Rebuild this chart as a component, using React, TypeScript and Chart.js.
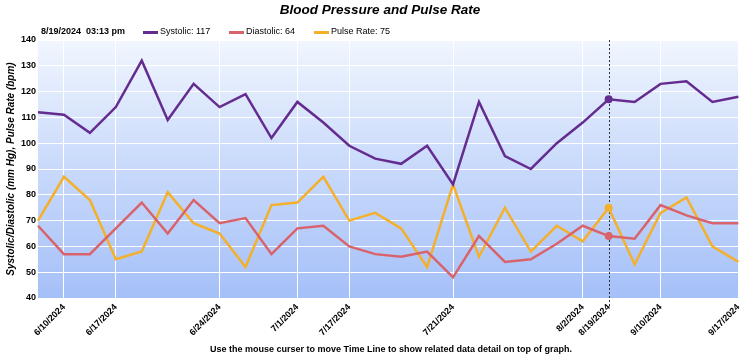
import React, { useEffect, useRef } from "react";
import { Chart, registerables } from "chart.js";

Chart.register(...registerables);

const FONT = 'Arial, "Liberation Sans", sans-serif';

const dateLabels: string[] = [
  "", "6/10/2024", "", "6/17/2024", "", "", "", "6/24/2024", "", "",
  "7/1/2024", "", "7/17/2024", "", "", "", "7/21/2024", "", "", "",
  "", "8/2/2024", "8/19/2024", "", "9/10/2024", "", "", "9/17/2024",
];

const systolic: number[] = [
  112, 111, 104, 114, 132, 109, 123, 114, 119, 102, 116, 108, 99, 94,
  92, 99, 84, 116, 95, 90, 100, 108, 117, 116, 123, 124, 116, 118,
];

const diastolic: number[] = [
  68, 57, 57, 67, 77, 65, 78, 69, 71, 57, 67, 68, 60, 57,
  56, 58, 48, 64, 54, 55, 61, 68, 64, 63, 76, 72, 69, 69,
];

const pulseRate: number[] = [
  70, 87, 78, 55, 58, 81, 69, 65, 52, 76, 77, 87, 70, 73,
  67, 52, 84, 56, 75, 58, 68, 62, 75, 53, 73, 79, 60, 54,
];

const yTicks: number[] = [40, 50, 60, 70, 80, 90, 100, 110, 120, 130, 140];

const selectedIndex = 22;
const selectedText = "8/19/2024  03:13 pm";
const titleText = "Blood Pressure and Pulse Rate";
const yTitleText = "Systolic/Diastolic (mm Hg), Pulse Rate (bpm)";
const footerText = "Use the mouse curser to move Time Line to show related data detail on top of graph.";

const COLORS = {
  systolic: "#652c90",
  diastolic: "#d9636b",
  pulse: "#f4b02a",
};

const decorPlugin = {
  id: "decor",
  beforeDraw(chart: any) {
    const { ctx, chartArea } = chart;
    const { left, right, top, bottom } = chartArea;
    const g = ctx.createLinearGradient(0, top, 0, bottom);
    g.addColorStop(0, "#f1f6fe");
    g.addColorStop(0.5, "#c8d9fb");
    g.addColorStop(1, "#a5c0f8");
    ctx.save();
    ctx.fillStyle = g;
    ctx.fillRect(left, top, right - left, bottom - top);
    ctx.restore();
  },
  beforeDatasetsDraw(chart: any) {
    const { ctx, chartArea, scales } = chart;
    const x = Math.round(scales.x.getPixelForValue(selectedIndex)) + 0.5;
    ctx.save();
    ctx.strokeStyle = "#333";
    ctx.lineWidth = 1;
    ctx.setLineDash([2, 2]);
    ctx.beginPath();
    ctx.moveTo(x, chartArea.top);
    ctx.lineTo(x, chartArea.bottom + 8);
    ctx.stroke();
    ctx.restore();
  },
  afterDraw(chart: any) {
    const { ctx, chartArea } = chart;
    ctx.save();
    ctx.fillStyle = "#000";
    ctx.textBaseline = "middle";
    // title
    ctx.font = `italic bold 13.5px ${FONT}`;
    ctx.textAlign = "center";
    ctx.fillText(titleText, 380, 10);
    // header legend
    ctx.textAlign = "left";
    ctx.font = `bold 9px ${FONT}`;
    ctx.fillText(selectedText, 41, 32);
    ctx.font = `9px ${FONT}`;
    const items = [
      { x: 143, color: COLORS.systolic, text: `Systolic: ${systolic[selectedIndex]}` },
      { x: 229, color: COLORS.diastolic, text: `Diastolic: ${diastolic[selectedIndex]}` },
      { x: 314, color: COLORS.pulse, text: `Pulse Rate: ${pulseRate[selectedIndex]}` },
    ];
    items.forEach((it) => {
      ctx.fillStyle = it.color;
      ctx.fillRect(it.x, 31, 15, 3);
      ctx.fillStyle = "#000";
      ctx.fillText(it.text, it.x + 17, 32);
    });
    // y title
    ctx.save();
    ctx.translate(11, (chartArea.top + chartArea.bottom) / 2);
    ctx.rotate(-Math.PI / 2);
    ctx.textAlign = "center";
    ctx.font = `italic bold 10px ${FONT}`;
    ctx.fillText(yTitleText, 0, 0);
    ctx.restore();
    // footer
    ctx.textAlign = "center";
    ctx.font = `bold 9px ${FONT}`;
    ctx.fillText(footerText, 391, 350);
    ctx.restore();
  },
};

export default function App() {
  const canvasRef = useRef<HTMLCanvasElement | null>(null);

  useEffect(() => {
    if (!canvasRef.current) return;
    const pr = (color: string) => ({
      borderColor: color,
      backgroundColor: color,
      borderWidth: 2.5,
      pointRadius: (c: any) => (c.dataIndex === selectedIndex ? 4 : 0),
      pointBorderWidth: 0,
      pointBackgroundColor: color,
      tension: 0,
      fill: false,
    });
    const chart = new Chart(canvasRef.current, {
      type: "line",
      data: {
        labels: dateLabels,
        datasets: [
          { label: "Systolic", data: systolic, ...pr(COLORS.systolic) },
          { label: "Diastolic", data: diastolic, ...pr(COLORS.diastolic) },
          { label: "Pulse Rate", data: pulseRate, ...pr(COLORS.pulse) },
        ] as any,
      },
      options: {
        animation: false,
        responsive: false,
        maintainAspectRatio: false,
        layout: { padding: { top: 40, right: 10, left: 0, bottom: 0 } },
        plugins: {
          legend: { display: false },
          title: { display: false },
          tooltip: { enabled: false },
        },
        scales: {
          x: {
            type: "category",
            offset: false,
            border: { display: false },
            grid: {
              drawTicks: false,
              color: (c: any) =>
                dateLabels[c.index] && c.index !== selectedIndex ? "#ffffff" : "rgba(0,0,0,0)",
              lineWidth: 1,
            },
            ticks: {
              autoSkip: false,
              minRotation: 45,
              maxRotation: 45,
              padding: 4,
              color: "#000",
              font: { family: FONT, size: 9, weight: "bold" },
              callback: (_v: any, i: number) => dateLabels[i],
            },
            afterFit: (s: any) => {
              s.height = 61;
            },
          },
          y: {
            min: 40,
            max: 140,
            border: { display: false },
            afterBuildTicks: (s: any) => {
              s.ticks = yTicks.map((v) => ({ value: v }));
            },
            grid: { color: "#ffffff", lineWidth: 1, drawTicks: false },
            ticks: {
              padding: 2,
              color: "#000",
              font: { family: FONT, size: 9, weight: "bold" },
            },
            afterFit: (s: any) => {
              s.width = 38;
            },
          },
        },
      } as any,
      plugins: [decorPlugin],
    });
    return () => chart.destroy();
  }, []);

  return (
    <div style={{ position: "absolute", left: 0, top: 0, width: 750, height: 359, background: "#fff" }}>
      <canvas ref={canvasRef} width={750} height={359} style={{ width: 750, height: 359, display: "block" }} />
    </div>
  );
}
